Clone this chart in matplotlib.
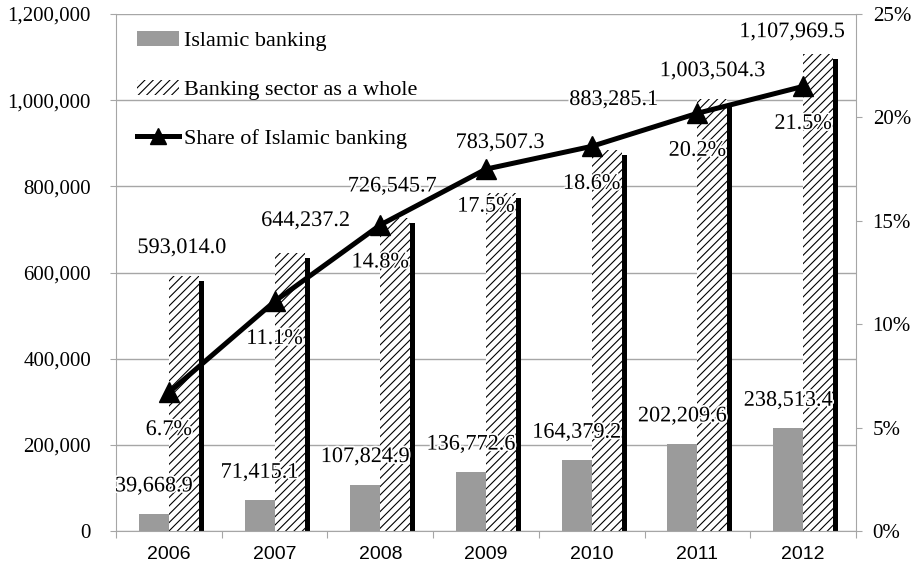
import numpy as np
import matplotlib
matplotlib.use("Agg")
import matplotlib.pyplot as plt
import matplotlib.patheffects as pe
from matplotlib.patches import Patch
from matplotlib.lines import Line2D

# data (million, share in %)
years = ['2006', '2007', '2008', '2009', '2010', '2011', '2012']
islamic = [39668.9, 71415.1, 107824.9, 136772.6, 164379.2, 202209.6, 238513.4]
whole = [593014.0, 644237.2, 726545.7, 783507.3, 883285.1, 1003504.3, 1107969.5]
share = [6.7, 11.1, 14.8, 17.5, 18.6, 20.2, 21.5]

# label nudges (pixels) for the whole-sector labels, as placed in the original
whole_dx = [-2, 16, -3, -1, 7, 0, -26]
whole_dy = [27, 32, 31, 50, 50, 27, 21]

serif = 'Liberation Serif'
px = 0.72  # pixels -> points at dpi 100
plt.rcParams['hatch.linewidth'] = 0.8

fig = plt.figure(figsize=(9.19, 5.68), dpi=100)
ax = fig.add_axes([116 / 919, 37 / 568, 740 / 919, 517 / 568])
ax2 = ax.twinx()
ax2.set_position(ax.get_position())

x = np.arange(len(years))
w = 0.284
grid_c = '#a6a6a6'
gray = '#9b9b9b'

ax.bar(x - w / 2, islamic, w, color=gray, zorder=2)
hb = ax.bar(x + w / 2, whole, w, color='white', edgecolor='black', linewidth=0,
            hatch='////', zorder=2)
for b in hb:
    b.set_path_effects([pe.SimplePatchShadow(offset=(3.6, -3.6), shadow_rgbFace='black', alpha=1),
                        pe.Normal()])

ax2.plot(x, share, color='black', lw=3.6, marker='^', ms=14, zorder=3)

ax.set_xlim(-0.5, len(years) - 0.5)
ax.set_ylim(0, 1200000)
ax2.set_ylim(0, 25)
ax.set_yticks(np.arange(0, 1200001, 200000))
ax.set_yticklabels([f'{v:,}' for v in range(0, 1200001, 200000)])
ax2.set_yticks(np.arange(0, 26, 5))
ax2.set_yticklabels([f'{v}%' for v in range(0, 26, 5)])

# category boundaries as major ticks, year labels on minor ticks
ax.set_xticks(np.arange(-0.5, len(years), 1))
ax.set_xticklabels([])
ax.set_xticks(x, minor=True)
ax.set_xticklabels(years, minor=True, fontfamily='Liberation Sans', fontsize=14)
ax.tick_params(axis='x', which='major', length=5, color=grid_c, direction='out')
ax.tick_params(axis='x', which='minor', length=0, pad=11)
ax.tick_params(axis='y', length=4, color=grid_c, pad=14)
ax2.tick_params(axis='y', length=4, color=grid_c, pad=8)
for lab in ax.get_yticklabels() + ax2.get_yticklabels():
    lab.set_fontfamily(serif)
    lab.set_fontsize(15)

ax.yaxis.grid(True, color=grid_c, lw=1)
ax.set_axisbelow(True)
for s in ['top', 'right']:
    ax.spines[s].set_visible(False)
for s in ['top', 'left', 'bottom']:
    ax2.spines[s].set_visible(False)
ax.spines['left'].set_color(grid_c)
ax.spines['bottom'].set_color(grid_c)
ax2.spines['right'].set_color(grid_c)

halo = [pe.withStroke(linewidth=2.5, foreground='white')]
tr = ax.transData
for i in range(len(years)):
    ax2.annotate(f'{islamic[i]:,.1f}', (x[i] - w / 2, islamic[i]), xycoords=tr,
                 xytext=(0, 27 * px), textcoords='offset points', ha='center', va='center',
                 fontfamily=serif, fontsize=16, path_effects=halo, zorder=5)
    ax2.annotate(f'{whole[i]:,.1f}', (x[i] + w / 2, whole[i]), xycoords=tr,
                 xytext=(whole_dx[i] * px, whole_dy[i] * px), textcoords='offset points',
                 ha='center', va='center', fontfamily=serif, fontsize=16,
                 path_effects=halo, zorder=5)
    ax2.annotate(f'{share[i]}%', (x[i], share[i]), xytext=(0, -38 * px),
                 textcoords='offset points', ha='center', va='center',
                 fontfamily=serif, fontsize=16, path_effects=halo, zorder=5)

handles = [Patch(facecolor=gray, linewidth=0),
           Patch(facecolor='white', edgecolor='black', linewidth=0, hatch='////'),
           Line2D([], [], color='black', lw=3.6, marker='^', ms=12)]
labels = ['Islamic banking', 'Banking sector as a whole', 'Share of Islamic banking']
ax2.legend(handles, labels, loc='upper left', bbox_to_anchor=(0.028, 0.968),
           frameon=False, borderpad=0, borderaxespad=0, handlelength=1.9,
           handletextpad=0.22, labelspacing=1.28, prop={'family': serif, 'size': 16})

fig.savefig('out.png', dpi=100)
